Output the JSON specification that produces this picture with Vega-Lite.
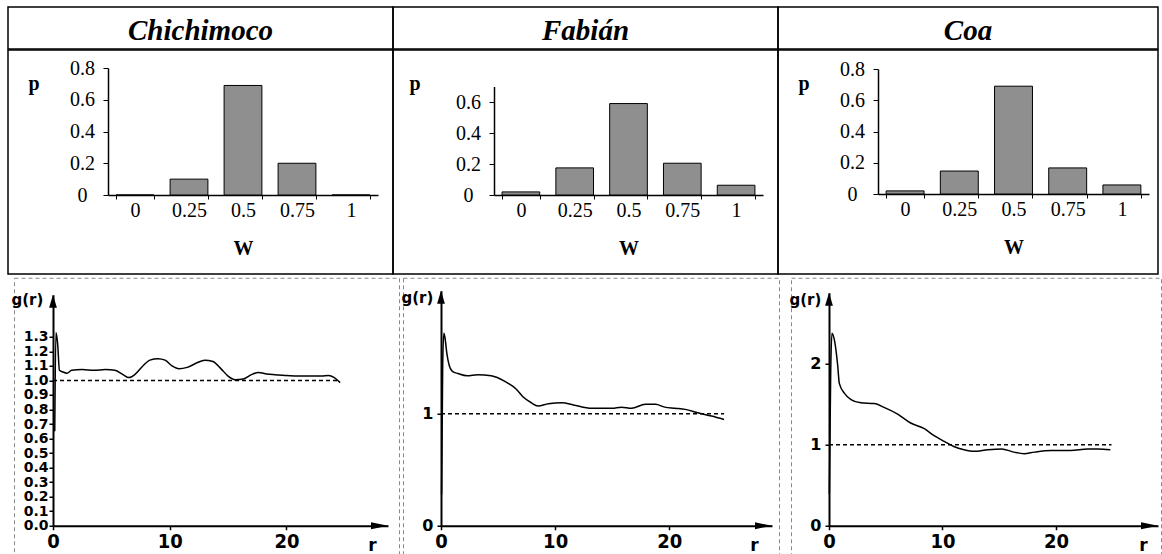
{
  "$schema": "https://vega.github.io/schema/vega-lite/v6.json",
  "padding": {"left": 7, "top": 6, "right": 2, "bottom": 0},
  "spacing": 1.75,
  "config": {
    "view": {"stroke": null},
    "axis": {"grid": false, "domainColor": "black", "tickColor": "black", "labelColor": "black", "titleColor": "black", "labelBound": false}
  },
  "vconcat": [
    {
      "spacing": -1.5,
      "vconcat": [
        {
          "bounds": "flush",
          "spacing": 0,
          "hconcat": [
            {
              "width": 385, "height": 42,
              "view": {"stroke": "black", "strokeWidth": 1.5},
              "data": {"values": [{"site": "Chichimoco"}]},
              "mark": {"type": "text", "font": "Liberation Serif", "fontSize": 29, "fontWeight": "bold", "fontStyle": "italic", "baseline": "alphabetic", "dy": 12, "color": "black"},
              "encoding": {"text": {"field": "site"}}
            },
            {
              "width": 385, "height": 42,
              "view": {"stroke": "black", "strokeWidth": 1.5},
              "data": {"values": [{"site": "Fabián"}]},
              "mark": {"type": "text", "font": "Liberation Serif", "fontSize": 29, "fontWeight": "bold", "fontStyle": "italic", "baseline": "alphabetic", "dy": 12, "color": "black"},
              "encoding": {"text": {"field": "site"}}
            },
            {
              "width": 380, "height": 42,
              "view": {"stroke": "black", "strokeWidth": 1.5},
              "data": {"values": [{"site": "Coa"}]},
              "mark": {"type": "text", "font": "Liberation Serif", "fontSize": 29, "fontWeight": "bold", "fontStyle": "italic", "baseline": "alphabetic", "dy": 12, "color": "black"},
              "encoding": {"text": {"field": "site"}}
            }
          ]
        },
        {
          "bounds": "flush",
          "spacing": 0,
          "hconcat": [
            {
              "width": 385, "height": 224,
              "view": {"stroke": "black", "strokeWidth": 1.5},
              "data": {"values": [{"w": "0", "p": 0}, {"w": "0.25", "p": 0.1}, {"w": "0.5", "p": 0.69}, {"w": "0.75", "p": 0.2}, {"w": "1", "p": 0}]},
              "mark": {"type": "bar", "fill": "#8f8f8f", "stroke": "black", "strokeWidth": 1},
              "encoding": {
                "x": {"field": "w", "type": "nominal", "sort": null,
                  "scale": {"range": [100, 370], "paddingInner": 0.3, "paddingOuter": 0.15},
                  "axis": {"orient": "bottom", "offset": -79, "labelAngle": 0, "tickBand": "extent", "tickSize": 4, "labelPadding": 1, "labelFont": "Liberation Serif", "labelFontSize": 20, "domainWidth": 1.5, "tickWidth": 1,
                    "title": "W", "titleFont": "Liberation Serif", "titleFontSize": 20, "titleFontWeight": "bold", "titleY": 59, "titleBaseline": "alphabetic"}},
                "y": {"field": "p", "type": "quantitative",
                  "scale": {"domain": [0, 0.8], "range": [145, 18], "nice": false},
                  "axis": {"offset": -100, "values": [0, 0.2, 0.4, 0.6, 0.8], "format": "~g", "tickSize": 5, "labelPadding": 21, "labelAlign": "center", "labelOverlap": false, "labelFont": "Liberation Serif", "labelFontSize": 20, "domainWidth": 1.5, "tickWidth": 1,
                    "title": "p", "titleAngle": 0, "titleX": -80, "titleY": 39, "titleAlign": "left", "titleBaseline": "alphabetic", "titleFont": "Liberation Serif", "titleFontSize": 20, "titleFontWeight": "bold"}}
              }
            },
            {
              "width": 385, "height": 224,
              "view": {"stroke": "black", "strokeWidth": 1.5},
              "data": {"values": [{"w": "0", "p": 0.02}, {"w": "0.25", "p": 0.175}, {"w": "0.5", "p": 0.59}, {"w": "0.75", "p": 0.205}, {"w": "1", "p": 0.063}]},
              "mark": {"type": "bar", "fill": "#8f8f8f", "stroke": "black", "strokeWidth": 1},
              "encoding": {
                "x": {"field": "w", "type": "nominal", "sort": null,
                  "scale": {"range": [101, 370], "paddingInner": 0.3, "paddingOuter": 0.15},
                  "axis": {"orient": "bottom", "offset": -79, "labelAngle": 0, "tickBand": "extent", "tickSize": 4, "labelPadding": 1, "labelFont": "Liberation Serif", "labelFontSize": 20, "domainWidth": 1.5, "tickWidth": 1,
                    "title": "W", "titleFont": "Liberation Serif", "titleFontSize": 20, "titleFontWeight": "bold", "titleY": 59, "titleBaseline": "alphabetic"}},
                "y": {"field": "p", "type": "quantitative",
                  "scale": {"domain": [0, 0.7], "range": [145, 36.5], "nice": false},
                  "axis": {"offset": -101, "values": [0, 0.2, 0.4, 0.6], "format": "~g", "tickSize": 5, "labelPadding": 21, "labelAlign": "center", "labelOverlap": false, "labelFont": "Liberation Serif", "labelFontSize": 20, "domainWidth": 1.5, "tickWidth": 1,
                    "title": "p", "titleAngle": 0, "titleX": -85, "titleY": 39, "titleAlign": "left", "titleBaseline": "alphabetic", "titleFont": "Liberation Serif", "titleFontSize": 20, "titleFontWeight": "bold"}}
              }
            },
            {
              "width": 380, "height": 224,
              "view": {"stroke": "black", "strokeWidth": 1.5},
              "data": {"values": [{"w": "0", "p": 0.02}, {"w": "0.25", "p": 0.147}, {"w": "0.5", "p": 0.69}, {"w": "0.75", "p": 0.167}, {"w": "1", "p": 0.058}]},
              "mark": {"type": "bar", "fill": "#8f8f8f", "stroke": "black", "strokeWidth": 1},
              "encoding": {
                "x": {"field": "w", "type": "nominal", "sort": null,
                  "scale": {"range": [100, 371], "paddingInner": 0.3, "paddingOuter": 0.15},
                  "axis": {"orient": "bottom", "offset": -80, "labelAngle": 0, "tickBand": "extent", "tickSize": 4, "labelPadding": 1, "labelFont": "Liberation Serif", "labelFontSize": 20, "domainWidth": 1.5, "tickWidth": 1,
                    "title": "W", "titleFont": "Liberation Serif", "titleFontSize": 20, "titleFontWeight": "bold", "titleY": 59, "titleBaseline": "alphabetic"}},
                "y": {"field": "p", "type": "quantitative",
                  "scale": {"domain": [0, 0.8], "range": [144, 19], "nice": false},
                  "axis": {"offset": -100, "values": [0, 0.2, 0.4, 0.6, 0.8], "format": "~g", "tickSize": 5, "labelPadding": 21, "labelAlign": "center", "labelOverlap": false, "labelFont": "Liberation Serif", "labelFontSize": 20, "domainWidth": 1.5, "tickWidth": 1,
                    "title": "p", "titleAngle": 0, "titleX": -80, "titleY": 39, "titleAlign": "left", "titleBaseline": "alphabetic", "titleFont": "Liberation Serif", "titleFontSize": 20, "titleFontWeight": "bold"}}
              }
            }
          ]
        }
      ]
    },
    {
      "bounds": "flush",
      "spacing": 5,
      "hconcat": [
        {"width": 1, "height": 277, "data": {"values": []}, "mark": "point"},
        {
          "bounds": "flush",
          "spacing": 4,
          "hconcat": [
            {
              "width": 385, "height": 277,
              "view": {"stroke": "#888888", "strokeDash": [4, 3], "strokeWidth": 1},
              "resolve": {"axis": {"y": "independent"}},
              "layer": [
                {
                  "data": {"values": [
                    {"r": 0.15, "g": 0.65}, {"r": 0.25, "g": 1.33}, {"r": 0.4, "g": 1.25}, {"r": 0.55, "g": 1.07}, {"r": 0.8, "g": 1.06},
                    {"r": 1.2, "g": 1.05}, {"r": 1.6, "g": 1.07}, {"r": 2.5, "g": 1.075}, {"r": 3.5, "g": 1.07}, {"r": 4.5, "g": 1.075},
                    {"r": 5.3, "g": 1.07}, {"r": 6.0, "g": 1.04}, {"r": 6.5, "g": 1.02}, {"r": 7.0, "g": 1.04}, {"r": 7.7, "g": 1.1},
                    {"r": 8.3, "g": 1.14}, {"r": 9.0, "g": 1.15}, {"r": 9.6, "g": 1.14}, {"r": 10.2, "g": 1.1}, {"r": 10.8, "g": 1.08},
                    {"r": 11.5, "g": 1.09}, {"r": 12.3, "g": 1.12}, {"r": 13.0, "g": 1.14}, {"r": 13.7, "g": 1.13}, {"r": 14.4, "g": 1.08},
                    {"r": 15.0, "g": 1.03}, {"r": 15.6, "g": 1.005}, {"r": 16.3, "g": 1.01}, {"r": 17.0, "g": 1.04}, {"r": 17.6, "g": 1.055},
                    {"r": 18.3, "g": 1.045}, {"r": 19.0, "g": 1.04}, {"r": 20.0, "g": 1.035}, {"r": 21.0, "g": 1.03}, {"r": 22.0, "g": 1.03},
                    {"r": 23.0, "g": 1.03}, {"r": 23.6, "g": 1.035}, {"r": 24.1, "g": 1.02}, {"r": 24.6, "g": 0.985}
                  ]},
                  "mark": {"type": "line", "color": "black", "strokeWidth": 1.5, "interpolate": "monotone"},
                  "encoding": {
                    "x": {"field": "r", "type": "quantitative",
                      "scale": {"domain": [0, 28.7], "range": [39, 374], "nice": false, "zero": false},
                      "axis": {"orient": "bottom", "offset": -29, "values": [0, 10, 20], "tickSize": 4, "labelPadding": 2, "labelFlush": false, "labelOverlap": false,
                        "labelFont": "Liberation Sans Narrow, DejaVu Sans Condensed, sans-serif", "labelFontSize": 20, "labelFontWeight": "bold", "domainWidth": 2, "tickWidth": 1.5,
                        "title": "r", "titleX": 358, "titleY": 25, "titleAlign": "center", "titleBaseline": "alphabetic", "titleFont": "DejaVu Sans", "titleFontSize": 17, "titleFontWeight": "bold"}},
                    "y": {"field": "g", "type": "quantitative",
                      "scale": {"domain": [0, 1.59], "range": [248, 17], "nice": false},
                      "axis": {"orient": "left", "offset": -39, "values": [0, 0.2, 0.4, 0.6, 0.8, 1.0, 1.2], "format": ".1f", "labelOverlap": false, "labelFlush": false,
                        "tickSize": 4, "labelPadding": 1, "labelFont": "DejaVu Sans", "labelFontSize": 14, "labelFontWeight": "bold", "domainWidth": 2, "tickWidth": 1.5,
                        "title": "g(r)", "titleAngle": 0, "titleX": -42, "titleY": 27, "titleAlign": "left", "titleBaseline": "alphabetic", "titleFont": "DejaVu Sans", "titleFontSize": 15, "titleFontWeight": "bold"}}
                  }
                },
                {
                  "data": {"values": [{"ref": 1, "from": 0, "to": 24.5}]},
                  "mark": {"type": "rule", "color": "black", "strokeWidth": 1.5, "strokeDash": [4, 3]},
                  "encoding": {
                    "x": {"field": "from", "type": "quantitative"},
                    "x2": {"field": "to"},
                    "y": {"field": "ref", "type": "quantitative",
                      "axis": {"orient": "left", "offset": -39, "values": [0.1, 0.3, 0.5, 0.7, 0.9, 1.1, 1.3], "format": ".1f", "labelOverlap": false, "labelFlush": false, "domain": false,
                        "tickSize": 4, "labelPadding": 1, "labelFont": "DejaVu Sans", "labelFontSize": 14, "labelFontWeight": "bold", "tickWidth": 1.5, "title": null}}
                  }
                },
                {
                  "data": {"values": [{}]},
                  "mark": {"type": "point", "shape": "M0,0L0.3,1L-0.3,1Z", "size": 676, "filled": true, "color": "black", "opacity": 1, "strokeWidth": 0},
                  "encoding": {"x": {"datum": 0}, "y": {"datum": 1.59, "axis": null}}
                },
                {
                  "data": {"values": [{}]},
                  "mark": {"type": "point", "shape": "M0,0L-1,-0.2L-1,0.2Z", "size": 1156, "filled": true, "color": "black", "opacity": 1, "strokeWidth": 0},
                  "encoding": {"x": {"datum": 28.7}, "y": {"datum": 0, "axis": null}}
                }
              ]
            },
            {
              "bounds": "flush",
              "spacing": 12,
              "hconcat": [
                {
                  "width": 376, "height": 277,
                  "view": {"stroke": "#888888", "strokeDash": [4, 3], "strokeWidth": 1},
                  "layer": [
                    {
                      "data": {"values": [
                        {"r": 0.05, "g": 0.28}, {"r": 0.15, "g": 1.45}, {"r": 0.25, "g": 1.72}, {"r": 0.35, "g": 1.68}, {"r": 0.5, "g": 1.55},
                        {"r": 0.7, "g": 1.44}, {"r": 1.0, "g": 1.38}, {"r": 1.5, "g": 1.36}, {"r": 2.3, "g": 1.34}, {"r": 3.2, "g": 1.35},
                        {"r": 4.4, "g": 1.34}, {"r": 5.6, "g": 1.29}, {"r": 6.6, "g": 1.22}, {"r": 7.2, "g": 1.15}, {"r": 7.9, "g": 1.1},
                        {"r": 8.5, "g": 1.07}, {"r": 9.4, "g": 1.09}, {"r": 10.6, "g": 1.1}, {"r": 11.6, "g": 1.08}, {"r": 13.2, "g": 1.05},
                        {"r": 15.0, "g": 1.05}, {"r": 15.8, "g": 1.06}, {"r": 16.7, "g": 1.05}, {"r": 17.9, "g": 1.085}, {"r": 18.8, "g": 1.085},
                        {"r": 19.6, "g": 1.06}, {"r": 20.5, "g": 1.05}, {"r": 21.4, "g": 1.04}, {"r": 22.5, "g": 1.01}, {"r": 23.7, "g": 0.98},
                        {"r": 24.8, "g": 0.95}
                      ]},
                      "mark": {"type": "line", "color": "black", "strokeWidth": 1.5, "interpolate": "monotone"},
                      "encoding": {
                        "x": {"field": "r", "type": "quantitative",
                          "scale": {"domain": [0, 29], "range": [38, 369], "nice": false, "zero": false},
                          "axis": {"orient": "bottom", "offset": -29, "values": [0, 10, 20], "tickSize": 4, "labelPadding": 2, "labelFlush": false, "labelOverlap": false,
                            "labelFont": "Liberation Sans Narrow, DejaVu Sans Condensed, sans-serif", "labelFontSize": 20, "labelFontWeight": "bold", "domainWidth": 2, "tickWidth": 1.5,
                            "title": "r", "titleX": 351, "titleY": 25, "titleAlign": "center", "titleBaseline": "alphabetic", "titleFont": "DejaVu Sans", "titleFontSize": 17, "titleFontWeight": "bold"}},
                        "y": {"field": "g", "type": "quantitative",
                          "scale": {"domain": [0, 2.1], "range": [248, 13], "nice": false},
                          "axis": {"offset": -38, "values": [0, 1], "format": "d", "labelOverlap": false, "labelFlush": false,
                            "tickSize": 4, "labelPadding": 4, "labelFont": "DejaVu Sans", "labelFontSize": 16, "labelFontWeight": "bold", "domainWidth": 2, "tickWidth": 1.5,
                            "title": "g(r)", "titleAngle": 0, "titleX": -40, "titleY": 25, "titleAlign": "left", "titleBaseline": "alphabetic", "titleFont": "DejaVu Sans", "titleFontSize": 15, "titleFontWeight": "bold"}}
                      }
                    },
                    {
                      "data": {"values": [{"ref": 1, "from": 0, "to": 24.8}]},
                      "mark": {"type": "rule", "color": "black", "strokeWidth": 1.5, "strokeDash": [4, 3]},
                      "encoding": {"x": {"field": "from", "type": "quantitative"}, "x2": {"field": "to"}, "y": {"field": "ref", "type": "quantitative"}}
                    },
                    {
                      "data": {"values": [{}]},
                      "mark": {"type": "point", "shape": "M0,0L0.3,1L-0.3,1Z", "size": 676, "filled": true, "color": "black", "opacity": 1, "strokeWidth": 0},
                      "encoding": {"x": {"datum": 0}, "y": {"datum": 2.1}}
                    },
                    {
                      "data": {"values": [{}]},
                      "mark": {"type": "point", "shape": "M0,0L-1,-0.2L-1,0.2Z", "size": 1156, "filled": true, "color": "black", "opacity": 1, "strokeWidth": 0},
                      "encoding": {"x": {"datum": 29}, "y": {"datum": 0}}
                    }
                  ]
                },
                {
                  "width": 370, "height": 277,
                  "view": {"stroke": "#888888", "strokeDash": [4, 3], "strokeWidth": 1},
                  "layer": [
                    {
                      "data": {"values": [
                        {"r": 0.03, "g": 0.39}, {"r": 0.15, "g": 1.9}, {"r": 0.26, "g": 2.38}, {"r": 0.47, "g": 2.3}, {"r": 0.76, "g": 1.99},
                        {"r": 0.91, "g": 1.76}, {"r": 1.35, "g": 1.64}, {"r": 1.94, "g": 1.56}, {"r": 2.8, "g": 1.52}, {"r": 4.0, "g": 1.51},
                        {"r": 4.9, "g": 1.46}, {"r": 6.05, "g": 1.38}, {"r": 7.2, "g": 1.27}, {"r": 8.4, "g": 1.2}, {"r": 9.3, "g": 1.11},
                        {"r": 10.2, "g": 1.04}, {"r": 11.0, "g": 0.98}, {"r": 11.9, "g": 0.94}, {"r": 12.8, "g": 0.92}, {"r": 14.0, "g": 0.94},
                        {"r": 15.2, "g": 0.95}, {"r": 16.3, "g": 0.91}, {"r": 17.2, "g": 0.89}, {"r": 18.1, "g": 0.91}, {"r": 19.6, "g": 0.93},
                        {"r": 21.3, "g": 0.93}, {"r": 22.8, "g": 0.95}, {"r": 23.7, "g": 0.95}, {"r": 24.8, "g": 0.94}
                      ]},
                      "mark": {"type": "line", "color": "black", "strokeWidth": 1.5, "interpolate": "monotone"},
                      "encoding": {
                        "x": {"field": "r", "type": "quantitative",
                          "scale": {"domain": [0, 29], "range": [38, 367], "nice": false, "zero": false},
                          "axis": {"orient": "bottom", "offset": -29, "values": [0, 10, 20], "tickSize": 4, "labelPadding": 2, "labelFlush": false, "labelOverlap": false,
                            "labelFont": "Liberation Sans Narrow, DejaVu Sans Condensed, sans-serif", "labelFontSize": 20, "labelFontWeight": "bold", "domainWidth": 2, "tickWidth": 1.5,
                            "title": "r", "titleX": 352, "titleY": 25, "titleAlign": "center", "titleBaseline": "alphabetic", "titleFont": "DejaVu Sans", "titleFontSize": 17, "titleFontWeight": "bold"}},
                        "y": {"field": "g", "type": "quantitative",
                          "scale": {"domain": [0, 2.88], "range": [248, 15], "nice": false},
                          "axis": {"offset": -38, "values": [0, 1, 2], "format": "d", "labelOverlap": false, "labelFlush": false,
                            "tickSize": 4, "labelPadding": 4, "labelFont": "DejaVu Sans", "labelFontSize": 16, "labelFontWeight": "bold", "domainWidth": 2, "tickWidth": 1.5,
                            "title": "g(r)", "titleAngle": 0, "titleX": -40, "titleY": 27, "titleAlign": "left", "titleBaseline": "alphabetic", "titleFont": "DejaVu Sans", "titleFontSize": 15, "titleFontWeight": "bold"}}
                      }
                    },
                    {
                      "data": {"values": [{"ref": 1, "from": 0, "to": 24.9}]},
                      "mark": {"type": "rule", "color": "black", "strokeWidth": 1.5, "strokeDash": [4, 3]},
                      "encoding": {"x": {"field": "from", "type": "quantitative"}, "x2": {"field": "to"}, "y": {"field": "ref", "type": "quantitative"}}
                    },
                    {
                      "data": {"values": [{}]},
                      "mark": {"type": "point", "shape": "M0,0L0.3,1L-0.3,1Z", "size": 676, "filled": true, "color": "black", "opacity": 1, "strokeWidth": 0},
                      "encoding": {"x": {"datum": 0}, "y": {"datum": 2.88}}
                    },
                    {
                      "data": {"values": [{}]},
                      "mark": {"type": "point", "shape": "M0,0L-1,-0.2L-1,0.2Z", "size": 1156, "filled": true, "color": "black", "opacity": 1, "strokeWidth": 0},
                      "encoding": {"x": {"datum": 29}, "y": {"datum": 0}}
                    }
                  ]
                }
              ]
            }
          ]
        }
      ]
    }
  ]
}
